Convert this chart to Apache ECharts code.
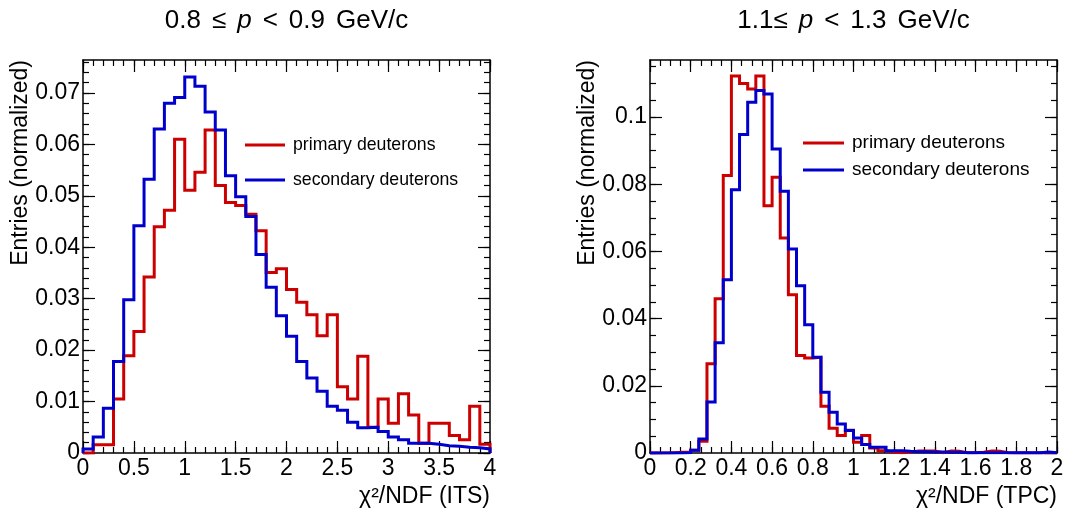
<!DOCTYPE html>
<html>
<head>
<meta charset="utf-8">
<script src="https://cdn.jsdelivr.net/npm/echarts@6/dist/echarts.min.js"></script>
<style>html,body{margin:0;padding:0;background:#fff;}#c{width:1065px;height:508px;}</style>
</head>
<body>
<div id="c"></div>
<script>
// ---- data ----
const itsBinWidth = 0.1;   // chi2/NDF (ITS) bins, 0..4
const itsPrimary = [0, 0.0016, 0.0016, 0.0105, 0.0189, 0.0236, 0.0342, 0.044, 0.0472, 0.061,
  0.0511, 0.0546, 0.0628, 0.052, 0.0487, 0.0481, 0.0464, 0.0432, 0.0351, 0.0358,
  0.0318, 0.0293, 0.0269, 0.0228, 0.0269, 0.0129, 0.0105, 0.0188, 0.005, 0.0105,
  0.0058, 0.0115, 0.0074, 0.0019, 0.0058, 0.0058, 0.0034, 0.0026, 0.0091, 0.0017];
const itsSecondary = [0.0008, 0.0031, 0.0087, 0.0178, 0.0298, 0.0442, 0.0532, 0.063, 0.068, 0.0691,
  0.0731, 0.0713, 0.0663, 0.0628, 0.0539, 0.0498, 0.046, 0.0386, 0.0322, 0.0267,
  0.0227, 0.0178, 0.0146, 0.012, 0.0091, 0.0083, 0.006, 0.0049, 0.005, 0.0042,
  0.0031, 0.0026, 0.0019, 0.0019, 0.0017, 0.0014, 0.0013, 0.0011, 0.001, 0.0008];

const tpcBinWidth = 0.04;  // chi2/NDF (TPC) bins, 0..2
const tpcPrimary = [0, 0, 0.0001, 0.0002, 0.0002, 0.0008, 0.0035, 0.0266, 0.0459, 0.0826,
  0.1122, 0.11, 0.1084, 0.1122, 0.0736, 0.0821, 0.064, 0.0471, 0.029, 0.0283,
  0.0285, 0.0139, 0.0074, 0.0052, 0.0068, 0.0032, 0.0052, 0.0015, 0.0007, 0.0002,
  0.0001, 0.0002, 0.0006, 0.0006, 0.0006, 0.0001, 0.0006, 0.0005, 0.0001, 0.0001,
  0.0002, 0.0006, 0.0005, 0.0001, 0, 0.0001, 0, 0.0001, 0, 0.0001];
const tpcSecondary = [0, 0, 0, 0, 0.0001, 0.0008, 0.0042, 0.0152, 0.0328, 0.0516,
  0.0784, 0.0948, 0.1044, 0.1079, 0.1069, 0.0905, 0.0779, 0.0607, 0.0498, 0.0382,
  0.0285, 0.0181, 0.0121, 0.0086, 0.0067, 0.0045, 0.0025, 0.0017, 0.0017, 0.0007,
  0.0007, 0.0005, 0.0004, 0.0004, 0.0003, 0.0003, 0.0002, 0.0002, 0.0001, 0.0001,
  0.0001, 0.0001, 0.0001, 0.0001, 0.0001, 0.0001, 0.0001, 0.0001, 0.0003, 0.0001];

const itsXTicks = [0, 0.5, 1, 1.5, 2, 2.5, 3, 3.5, 4];
const itsYTicks = [0, 0.01, 0.02, 0.03, 0.04, 0.05, 0.06, 0.07];
const tpcXTicks = [0, 0.2, 0.4, 0.6, 0.8, 1, 1.2, 1.4, 1.6, 1.8, 2];
const tpcYTicks = [0, 0.02, 0.04, 0.06, 0.08, 0.1];

const seriesNames = ['primary deuterons', 'secondary deuterons'];
const titles = ['0.8{s| }\u2264{s| }{i|p}{s| }<{s| }0.9{s| }GeV/c', '1.1\u2264{s| }{i|p}{s| }<{s| }1.3{s| }GeV/c'];
const xTitles = ['\u03c7\u00b2/NDF (ITS)', '\u03c7\u00b2/NDF (TPC)'];
const yTitle = 'Entries (normalized)';

// ---- helpers ----
const FONT = 'Liberation Sans, Arial, Helvetica, sans-serif';
const RED = '#cc0000', BLUE = '#0000cc';

function range(a, b, step) {
  const out = [];
  const n = Math.round((b - a) / step);
  for (let i = 0; i <= n; i++) out.push(+(a + i * step).toFixed(6));
  return out;
}
function histPoints(values, w) {
  const pts = [[0, 0]];
  values.forEach((v, i) => pts.push([+(i * w).toFixed(6), v]));
  const end = +(values.length * w).toFixed(6);
  pts.push([end, values[values.length - 1]]);
  pts.push([end, 0]);
  return pts;
}
const fmt = v => String(parseFloat((+v).toPrecision(6)));

const panels = [
  {grid: {left: 83, top: 60, width: 407, height: 393}, xmin: 0, xmax: 4, ymax: 0.0764,
   xMajor: itsXTicks, xMinor: range(0, 4, 0.1), yMajor: itsYTicks, yMinor: range(0, 0.076, 0.002),
   xTitle: xTitles[0], prim: itsPrimary, sec: itsSecondary, w: itsBinWidth},
  {grid: {left: 650, top: 60, width: 407, height: 393}, xmin: 0, xmax: 2, ymax: 0.117,
   xMajor: tpcXTicks, xMinor: range(0, 2, 0.05), yMajor: tpcYTicks, yMinor: range(0, 0.115, 0.005),
   xTitle: xTitles[1], prim: tpcPrimary, sec: tpcSecondary, w: tpcBinWidth}
];

const grid = [], xAxis = [], yAxis = [], series = [];
const lineC = '#000';
panels.forEach((p, gi) => {
  grid.push(Object.assign({outerBoundsMode: 'none', containLabel: false}, p.grid));
  const baseX = {type: 'value', gridIndex: gi, min: p.xmin, max: p.xmax, splitLine: {show: false}};
  const baseY = {type: 'value', gridIndex: gi, min: 0, max: p.ymax, splitLine: {show: false}};
  const xi = xAxis.length;
  xAxis.push(Object.assign({}, baseX, {
    position: 'bottom',
    axisLine: {show: true, onZero: false, lineStyle: {color: lineC, width: 1.5}},
    axisTick: {show: true, inside: true, length: 12, customValues: p.xMajor, lineStyle: {color: lineC, width: 1.2}},
    axisLabel: {show: true, customValues: p.xMajor, margin: 4, color: '#000', fontSize: 23, fontFamily: FONT, formatter: fmt},
    name: p.xTitle, nameLocation: 'end', nameGap: 0,
    nameTextStyle: {color: '#000', fontSize: 23, fontFamily: FONT, align: 'right', verticalAlign: 'top', padding: [32, 0, 0, 0]}
  }));
  xAxis.push(Object.assign({}, baseX, {
    position: 'bottom', axisLine: {show: false, onZero: false},
    axisTick: {show: true, inside: true, length: 6, customValues: p.xMinor, lineStyle: {color: lineC, width: 1.2}},
    axisLabel: {show: false}
  }));
  xAxis.push(Object.assign({}, baseX, {
    position: 'top', axisLine: {show: true, onZero: false, lineStyle: {color: lineC, width: 1.5}},
    axisTick: {show: true, inside: true, length: 12, customValues: p.xMajor, lineStyle: {color: lineC, width: 1.2}},
    axisLabel: {show: false}
  }));
  xAxis.push(Object.assign({}, baseX, {
    position: 'top', axisLine: {show: false, onZero: false},
    axisTick: {show: true, inside: true, length: 6, customValues: p.xMinor, lineStyle: {color: lineC, width: 1.2}},
    axisLabel: {show: false}
  }));
  const yi = yAxis.length;
  yAxis.push(Object.assign({}, baseY, {
    position: 'left',
    axisLine: {show: true, onZero: false, lineStyle: {color: lineC, width: 1.5}},
    axisTick: {show: true, inside: true, length: 12, customValues: p.yMajor, lineStyle: {color: lineC, width: 1.2}},
    axisLabel: {show: true, customValues: p.yMajor, margin: 3, color: '#000', fontSize: 23, fontFamily: FONT, formatter: fmt},
    name: yTitle, nameLocation: 'end', nameGap: 0, nameRotate: 90,
    nameTextStyle: {color: '#000', fontSize: 23, fontFamily: FONT, align: 'right', verticalAlign: 'bottom', padding: [0, 0, 51, 0]}
  }));
  yAxis.push(Object.assign({}, baseY, {
    position: 'left', axisLine: {show: false, onZero: false},
    axisTick: {show: true, inside: true, length: 6, customValues: p.yMinor, lineStyle: {color: lineC, width: 1.2}},
    axisLabel: {show: false}
  }));
  yAxis.push(Object.assign({}, baseY, {
    position: 'right', axisLine: {show: true, onZero: false, lineStyle: {color: lineC, width: 1.5}},
    axisTick: {show: true, inside: true, length: 12, customValues: p.yMajor, lineStyle: {color: lineC, width: 1.2}},
    axisLabel: {show: false}
  }));
  yAxis.push(Object.assign({}, baseY, {
    position: 'right', axisLine: {show: false, onZero: false},
    axisTick: {show: true, inside: true, length: 6, customValues: p.yMinor, lineStyle: {color: lineC, width: 1.2}},
    axisLabel: {show: false}
  }));
  [[p.prim, RED, seriesNames[0]], [p.sec, BLUE, seriesNames[1]]].forEach(([vals, col, nm]) => {
    series.push({
      type: 'line', name: nm, xAxisIndex: xi, yAxisIndex: yi, step: 'end',
      data: histPoints(vals, p.w), symbol: 'none', showSymbol: false, clip: true,
      color: col, itemStyle: {color: col},
      lineStyle: {color: col, width: 3, join: 'miter', cap: 'butt'},
      animation: false, silent: true
    });
  });
});

function titleStyle(text) {
  return {text, fill: '#000', fontSize: 26, fontFamily: FONT, align: 'center', verticalAlign: 'middle',
    rich: {
      i: {fontStyle: 'italic', fontSize: 26, fontFamily: FONT, fill: '#000'},
      s: {width: 11, fontSize: 26, fontFamily: FONT}
    }};
}

const option = {
  animation: false,
  backgroundColor: '#fff',
  grid, xAxis, yAxis, series,
  legend: [
    {data: seriesNames, orient: 'vertical', left: 245, top: 136, padding: 0, itemGap: 17,
     icon: 'rect', itemWidth: 40, itemHeight: 3, selectedMode: false,
     textStyle: {color: '#000', fontSize: 17.7, lineHeight: 18, fontFamily: FONT, padding: [0, 0, 0, 3]}},
    {data: seriesNames, orient: 'vertical', left: 803, top: 133.5, padding: 0, itemGap: 8,
     icon: 'rect', itemWidth: 41, itemHeight: 3, selectedMode: false,
     textStyle: {color: '#000', fontSize: 19, lineHeight: 19, fontFamily: FONT, padding: [0, 0, 0, 3]}}
  ],
  graphic: [
    {type: 'text', x: 286.5, y: 21, silent: true, style: titleStyle(titles[0])},
    {type: 'text', x: 853.5, y: 21, silent: true, style: titleStyle(titles[1])}
  ]
};
const chart = echarts.init(document.getElementById('c'), null, {renderer: 'canvas'});
chart.setOption(option);
</script>
</body>
</html>
